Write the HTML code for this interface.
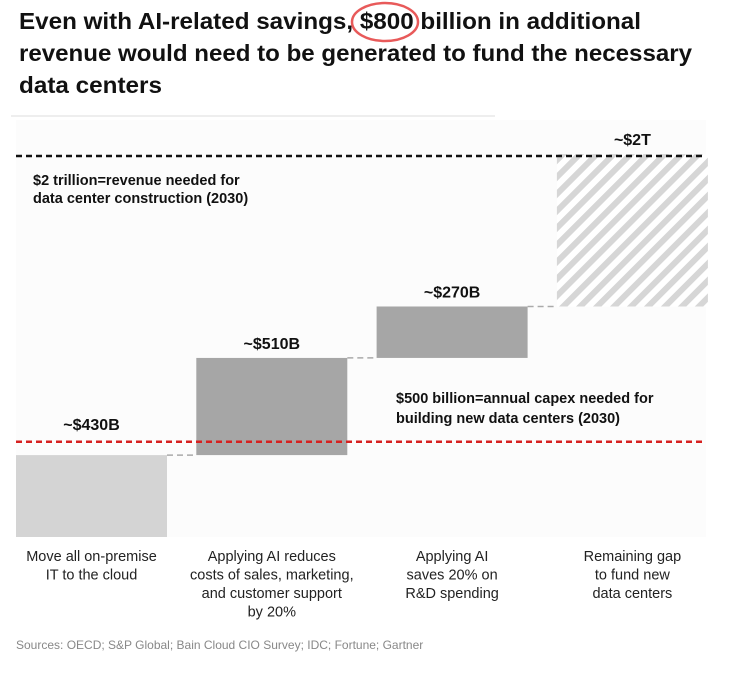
<!DOCTYPE html>
<html><head><meta charset="utf-8"><style>
body{margin:0;background:#fff;width:748px;height:674px;overflow:hidden;font-family:"Liberation Sans",sans-serif}
svg text{font-family:"Liberation Sans",sans-serif}
</style></head><body>
<svg id="c" width="748" height="674">
<defs><pattern id="hatch" width="12" height="12" patternUnits="userSpaceOnUse" patternTransform="rotate(45)"><rect width="12" height="12" fill="#fff"/><rect width="6" height="12" fill="#d6d6d6"/></pattern></defs>
<g font-size="23" font-weight="bold" fill="#111">
<text x="19" y="29" textLength="622" lengthAdjust="spacingAndGlyphs">Even with AI-related savings, $800 billion in additional</text>
<text x="19" y="61" textLength="673" lengthAdjust="spacingAndGlyphs">revenue would need to be generated to fund the necessary</text>
<text x="19" y="93" textLength="143" lengthAdjust="spacingAndGlyphs">data centers</text>
</g>
<ellipse cx="385" cy="22" rx="33" ry="19" fill="none" stroke="#e85a5a" stroke-width="2.5"/>
<line x1="11" y1="116" x2="495" y2="116" stroke="#ddd"/>
<rect x="16" y="120" width="690" height="417" fill="#fcfcfc"/>
<g id="marks"></g>
<text x="16" y="649" font-size="12" fill="#888">Sources: OECD; S&amp;P Global; Bain Cloud CIO Survey; IDC; Fortune; Gartner</text>
</svg>
<script>
const categories=[["Move all on-premise","IT to the cloud"],["Applying AI reduces","costs of sales, marketing,","and customer support","by 20%"],["Applying AI","saves 20% on","R&D spending"],["Remaining gap","to fund new","data centers"]];
const values=[430,510,270,800];
const valueLabels=["~$430B","~$510B","~$270B","~$2T"];
const totalLine=2000;
const capexLine=500;
const NS="http://www.w3.org/2000/svg";
const g=document.getElementById('marks');
const y=v=>537-v*(381/2000);
const x=i=>16+i*180.3;
const bw=151;
function el(t,a){const e=document.createElementNS(NS,t);for(const k in a)e.setAttribute(k,a[k]);g.appendChild(e);return e;}
const fills=["#d4d4d4","#a6a6a6","#a6a6a6","url(#hatch)"];
let cum=0;
values.forEach((v,i)=>{
 const top=y(cum+v),bot=y(cum);
 const r=el('rect',{x:x(i),y:top,width:bw,height:bot-top,fill:fills[i]});
 
 
 let ly=top-9;
 const cy=y(capexLine);
 if(ly>cy-14&&ly<cy+20) ly=cy-12;
 const t=el('text',{x:x(i)+bw/2,y:ly,'text-anchor':'middle','font-size':16,'font-weight':'bold',fill:'#111'});
 t.textContent=valueLabels[i];
 
 
 if(i<values.length-1){
  const c=el('line',{x1:x(i)+bw,x2:x(i+1),y1:top,y2:top,stroke:'#aaa','stroke-dasharray':'6 4','stroke-width':1.5});
  
  
 }
 const ct=el('text',{'text-anchor':'middle','font-size':14.5,fill:'#222'});
 
 
 categories[i].forEach((s,j)=>{const ts=document.createElementNS(NS,'tspan');ts.setAttribute('x',x(i)+bw/2);ts.setAttribute('y',561+j*18.5);ts.textContent=s;ct.appendChild(ts);});
 cum+=v;
});
const l1=el('line',{x1:16,x2:706,y1:y(totalLine),y2:y(totalLine),stroke:'#111','stroke-width':2.5,'stroke-dasharray':'6 4'});


const l2=el('line',{x1:16,x2:706,y1:y(capexLine),y2:y(capexLine),stroke:'#d6201f','stroke-width':2.5,'stroke-dasharray':'6 4'});


const a1=el('text',{'font-size':14.5,'font-weight':'bold',fill:'#111'});


a1.innerHTML='<tspan x="33" y="185">$2 trillion=revenue needed for</tspan><tspan x="33" y="203">data center construction (2030)</tspan>';
const a2=el('text',{'font-size':14.5,'font-weight':'bold',fill:'#111'});


a2.innerHTML='<tspan x="396" y="403">$500 billion=annual capex needed for</tspan><tspan x="396" y="423">building new data centers (2030)</tspan>';
</script>
</body></html>
